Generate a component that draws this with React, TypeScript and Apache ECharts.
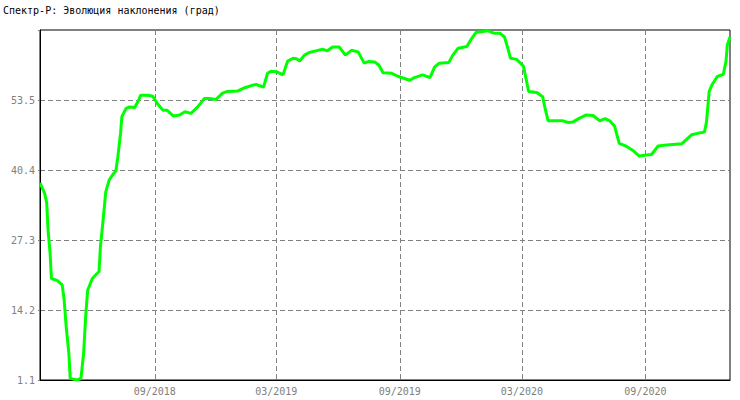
import React, { useEffect, useRef } from "react";
import * as echarts from "echarts";

const TITLE = "Спектр-Р: Эволюция наклонения (град)";

const dates: string[] = [
  "2018-03-14", "2018-03-21", "2018-03-24", "2018-03-26", "2018-03-29", "2018-03-31",
  "2018-04-09", "2018-04-16", "2018-04-19", "2018-04-22", "2018-04-26", "2018-04-28",
  "2018-05-08", "2018-05-14", "2018-05-18", "2018-05-21", "2018-05-24", "2018-05-31",
  "2018-06-10", "2018-06-12", "2018-06-16", "2018-06-20", "2018-06-25", "2018-07-02",
  "2018-07-05", "2018-07-08", "2018-07-12", "2018-07-14", "2018-07-20", "2018-07-25",
  "2018-08-02", "2018-08-07", "2018-08-11", "2018-08-22", "2018-08-29", "2018-09-05",
  "2018-09-13", "2018-09-19", "2018-09-29", "2018-10-08", "2018-10-16", "2018-10-25",
  "2018-11-04", "2018-11-14", "2018-11-21", "2018-12-01", "2018-12-11", "2018-12-18",
  "2019-01-03", "2019-01-13", "2019-01-23", "2019-01-30", "2019-02-10", "2019-02-16",
  "2019-02-21", "2019-03-01", "2019-03-11", "2019-03-18", "2019-03-26", "2019-03-31",
  "2019-04-05", "2019-04-12", "2019-04-19", "2019-04-29", "2019-05-09", "2019-05-16",
  "2019-05-24", "2019-06-03", "2019-06-12", "2019-06-21", "2019-07-01", "2019-07-10",
  "2019-07-16", "2019-07-26", "2019-08-01", "2019-08-07", "2019-08-20", "2019-08-30",
  "2019-09-16", "2019-09-23", "2019-10-05", "2019-10-16", "2019-10-23", "2019-10-30",
  "2019-11-13", "2019-11-19", "2019-11-27", "2019-12-10", "2019-12-17", "2019-12-24",
  "2020-01-03", "2020-01-10", "2020-01-19", "2020-01-28", "2020-02-04", "2020-02-09",
  "2020-02-13", "2020-02-22", "2020-03-03", "2020-03-07", "2020-03-11", "2020-03-23",
  "2020-04-01", "2020-04-04", "2020-04-09", "2020-05-01", "2020-05-09", "2020-05-16",
  "2020-05-26", "2020-06-05", "2020-06-15", "2020-06-25", "2020-07-03", "2020-07-10",
  "2020-07-17", "2020-07-24", "2020-08-04", "2020-08-14", "2020-08-23", "2020-09-03",
  "2020-09-10", "2020-09-20", "2020-10-03", "2020-10-25", "2020-11-09", "2020-11-19",
  "2020-11-28", "2020-12-01", "2020-12-05", "2020-12-09", "2020-12-17", "2020-12-26",
  "2020-12-30", "2021-01-01", "2021-01-05",
];

const inclination: number[] = [
  38.0, 36.0, 34.2, 29.2, 24.9, 20.1,
  19.7, 18.9, 16.1, 11.1, 6.1, 1.4,
  1.1, 1.4, 6.1, 12.9, 17.9, 20.1,
  21.4, 26.0, 31.0, 36.3, 38.5, 39.8,
  40.2, 42.9, 47.3, 50.4, 51.9, 52.2,
  52.1, 53.2, 54.4, 54.4, 54.2, 52.8,
  51.6, 51.6, 50.5, 50.7, 51.3, 51.0,
  52.2, 53.8, 53.8, 53.6, 54.8, 55.1,
  55.2, 55.8, 56.2, 56.4, 55.9, 58.5,
  58.9, 58.8, 58.2, 60.8, 61.3, 61.2,
  60.8, 61.9, 62.4, 62.7, 63.0, 62.7,
  63.4, 63.4, 61.9, 62.8, 62.5, 60.4,
  60.7, 60.6, 60.0, 58.6, 58.5, 57.9,
  57.2, 57.7, 58.2, 57.7, 59.7, 60.4,
  60.5, 61.9, 63.2, 63.5, 65.0, 66.2,
  66.3, 66.5, 66.0, 66.0, 65.3, 63.2,
  61.3, 61.1, 59.9, 57.6, 55.1, 54.9,
  54.1, 52.2, 49.6, 49.6, 49.3, 49.4,
  50.1, 50.7, 50.6, 49.6, 50.0, 49.6,
  48.6, 45.4, 44.8, 44.0, 43.0, 43.2,
  43.3, 44.9, 45.1, 45.3, 47.0, 47.3,
  47.5, 49.4, 55.1, 56.3, 57.9, 58.3,
  60.7, 63.8, 65.3,
];

const xTickDates: string[] = ["2018-09-01", "2019-03-01", "2019-09-01", "2020-03-01", "2020-09-01"];
const xMin = "2018-03-14";
const xMax = "2021-01-05";
const yMin = 1.1;
const yMax = 66.6;
const yStep = 13.1;

const toTs = (s: string) => {
  const [y, m, d] = s.split("-").map(Number);
  return new Date(y, m - 1, d).getTime();
};

export default function App() {
  const ref = useRef<HTMLDivElement>(null);

  useEffect(() => {
    document.body.style.margin = "0";
    if (!ref.current) return;
    const chart = echarts.init(ref.current, undefined, { renderer: "svg" });
    const font = "DejaVu Sans Mono";
    const tickVals = xTickDates.map(toTs);
    chart.setOption({
      animation: false,
      backgroundColor: "#ffffff",
      title: {
        text: TITLE,
        left: 3,
        top: 5,
        padding: 0,
        textStyle: { fontFamily: font, fontSize: 10, fontWeight: "normal", color: "#000000" },
      },
      grid: {
        left: 40,
        right: 10,
        top: 30,
        bottom: 20,
        show: true,
        borderColor: "#000000",
        borderWidth: 1,
        backgroundColor: "transparent",
      },
      xAxis: {
        type: "value",
        min: toTs(xMin),
        max: toTs(xMax),
        axisLine: { show: true, lineStyle: { color: "#000000", width: 1 } },
        axisTick: { show: false, customValues: tickVals },
        axisLabel: {
          customValues: tickVals,
          color: "#808080",
          fontFamily: font,
          fontSize: 10,
          margin: 6,
          formatter: (v: number) => {
            const d = new Date(v);
            const mm = String(d.getMonth() + 1).padStart(2, "0");
            return `${mm}/${d.getFullYear()}`;
          },
        },
        splitLine: {
          show: true,
          lineStyle: { color: "#808080", type: [5, 3], width: 1 },
        },
      },
      yAxis: {
        type: "value",
        min: yMin,
        max: yMax,
        interval: yStep,
        axisLine: { show: true, lineStyle: { color: "#000000", width: 1 } },
        axisTick: { show: true, length: 2, lineStyle: { color: "#808080" } },
        axisLabel: {
          color: "#808080",
          fontFamily: font,
          fontSize: 10,
          margin: 5,
          formatter: (v: number) => (v > yMax - 1 ? "" : v.toFixed(1)),
        },
        splitLine: {
          show: true,
          showMinLine: false,
          showMaxLine: false,
          lineStyle: { color: "#808080", type: [5, 3], width: 1 },
        },
      },
      series: [
        {
          type: "line",
          data: dates.map((d, i) => [toTs(d), inclination[i]]),
          showSymbol: false,
          symbol: "none",
          lineStyle: { color: "#00ff00", width: 3 },
          itemStyle: { color: "#00ff00" },
          clip: true,
        },
      ],
    });
    return () => chart.dispose();
  }, []);

  return <div ref={ref} style={{ width: 740, height: 400 }} />;
}
